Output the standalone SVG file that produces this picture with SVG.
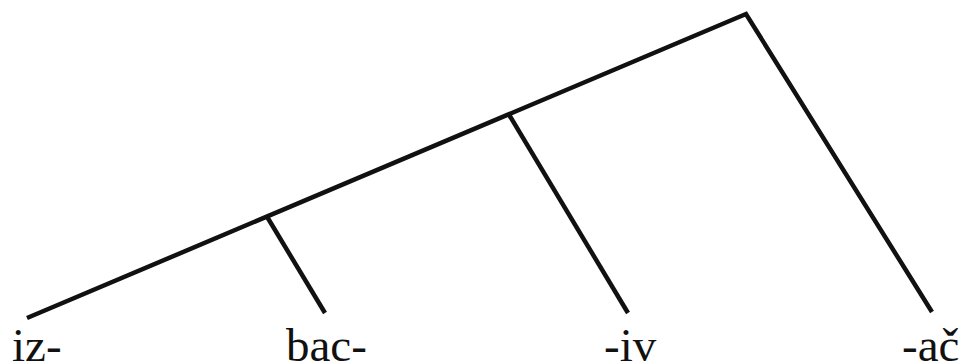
<svg xmlns="http://www.w3.org/2000/svg" width="962" height="363" viewBox="0 0 962 363">
<style>
.e{stroke:#111;stroke-width:4.5;fill:none;stroke-linecap:butt;stroke-linejoin:miter}
.t{font-family:"Liberation Serif",serif;font-size:47px;fill:#111}
</style>
<rect width="962" height="363" fill="#fff"/>
<g id="connectors">
<polyline class="e" points="27,318 746,14 932,312"/>
<line class="e" x1="266" y1="215" x2="325" y2="313"/>
<line class="e" x1="508" y1="113" x2="628" y2="313"/>
</g>
<g id="n-iz"><text class="t" x="12" y="361">iz-</text></g>
<g id="n-bac"><text class="t" x="286" y="361">bac-</text></g>
<g id="n-iv"><text class="t" x="604" y="361">-iv</text></g>
<g id="n-ac"><text class="t" x="902" y="361">-ač</text></g>
</svg>
